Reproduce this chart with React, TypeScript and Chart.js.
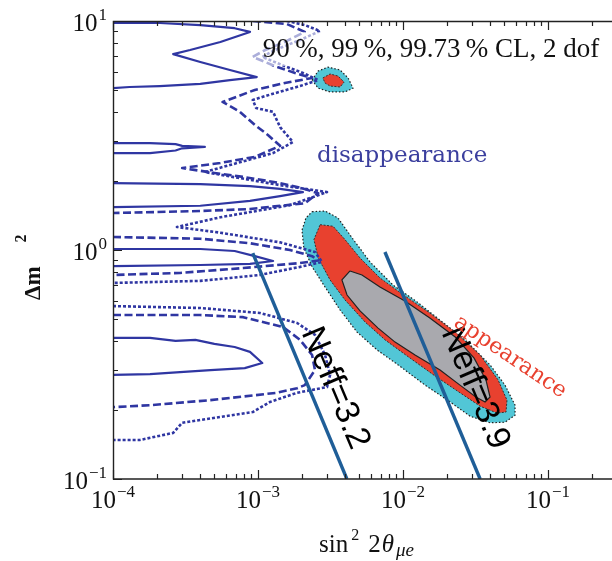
import React, { useEffect, useRef } from 'react';
import { Chart, registerables } from 'chart.js';

Chart.register(...registerables);

type P = [number, number];

// ---- axes ----
const xMin = 1e-4;
const xMax = 0.276;
const yMin = 0.1;
const yMax = 10;
const xTickDecades = [1e-4, 1e-3, 1e-2, 1e-1];
const xTickExponents = ['\u22124', '\u22123', '\u22122', '\u22121'];
const yTickDecades = [1e-1, 1, 10];
const yTickExponents = ['\u22121', '0', '1'];

// ---- disappearance contours (sin^2 2θ, Δm^2) ----
// 90% CL (solid)
const solidA: P[] = [[1e-4, 9.8], [2.1e-4, 9.8], [4.0e-4, 9.6], [6.9e-4, 9.3], [8.8e-4, 8.96], [5.5e-4, 8.1], [3.4e-4, 7.47], [2.6e-4, 7.17], [4.0e-4, 6.62], [6.4e-4, 6.11], [9.8e-4, 5.69], [6.4e-4, 5.52], [4.0e-4, 5.31], [2.1e-4, 5.2], [1.3e-4, 5.15], [1e-4, 5.09]];
const solidB: P[] = [[1e-4, 2.93], [1.8e-4, 2.93], [2.7e-4, 2.9], [3.0e-4, 2.85], [4.3e-4, 2.82], [3.0e-4, 2.78], [2.7e-4, 2.72], [1.8e-4, 2.65], [1e-4, 2.65]];
const solidC: P[] = [[1e-4, 1.96], [4.0e-4, 1.94], [8.8e-4, 1.9], [1.42e-3, 1.85], [2.04e-3, 1.79], [1.42e-3, 1.72], [8.8e-4, 1.64], [4.0e-4, 1.56], [1e-4, 1.54]];
const solidD: P[] = [[1e-4, 1.01], [4.0e-4, 1.01], [6.9e-4, 0.99], [9.5e-4, 0.94], [1.27e-3, 0.895], [8.8e-4, 0.87], [4.0e-4, 0.86], [1e-4, 0.85]];
const solidE: P[] = [[1e-4, 0.413], [1.8e-4, 0.413], [2.7e-4, 0.401], [3.7e-4, 0.405], [5.0e-4, 0.389], [6.9e-4, 0.377], [8.8e-4, 0.359], [1.07e-3, 0.321], [8.1e-4, 0.305], [4.7e-4, 0.299], [2.9e-4, 0.293], [1.8e-4, 0.287], [1e-4, 0.285]];
// 99% CL (dashed)
const dashedTop: P[] = [[9.2e-4, 10], [1.58e-3, 9.7], [2.1e-3, 8.96], [1.53e-3, 8.1], [1.12e-3, 7.47], [9.2e-4, 6.97], [1.31e-3, 6.35], [1.8e-3, 5.93], [2.36e-3, 5.64], [1.53e-3, 5.36], [9.5e-4, 5.0], [5.7e-4, 4.43], [7.5e-4, 4.01], [9.5e-4, 3.52], [1.17e-3, 3.18], [1.42e-3, 2.85], [9.5e-4, 2.55], [5.5e-4, 2.4], [3.0e-4, 2.28], [5.0e-4, 2.17], [8.1e-4, 2.08], [1.42e-3, 1.96], [1.95e-3, 1.87], [2.6e-3, 1.77], [2.1e-3, 1.6], [8.8e-4, 1.51], [4.0e-4, 1.48], [1e-4, 1.45]];
const dashedMid: P[] = [[1e-4, 1.14], [4.0e-4, 1.12], [8.8e-4, 1.07], [1.66e-3, 1.0], [2.36e-3, 0.94], [2.6e-3, 0.9], [1.95e-3, 0.877], [7.9e-4, 0.834], [2.9e-4, 0.794], [1e-4, 0.778]];
const dashedLow: P[] = [[1e-4, 0.52], [4.0e-4, 0.52], [7.9e-4, 0.509], [1.49e-3, 0.461], [1.95e-3, 0.405], [2.36e-3, 0.348], [2.47e-3, 0.299], [2.1e-3, 0.257], [1.86e-3, 0.249], [1.35e-3, 0.238], [4.7e-4, 0.221], [1.8e-4, 0.21], [1e-4, 0.206]];
// 99.73% CL (dotted)
const dottedTop: P[] = [[1.58e-3, 10], [2.1e-3, 9.6], [2.68e-3, 9.04], [1.95e-3, 8.26], [1.31e-3, 7.47], [1.07e-3, 6.97], [1.53e-3, 6.35], [2.04e-3, 5.93], [2.6e-3, 5.52], [1.95e-3, 5.2], [1.25e-3, 4.8], [9.2e-4, 4.52], [9.7e-4, 4.17], [1.27e-3, 4.01], [1.42e-3, 3.44], [1.74e-3, 2.96], [1.27e-3, 2.65], [6.4e-4, 2.35], [4.3e-4, 2.19], [7.5e-4, 2.06], [1.42e-3, 1.92], [2.99e-3, 1.79], [1.66e-3, 1.57], [5.5e-4, 1.39], [2.76e-4, 1.26], [5.5e-4, 1.19], [1.42e-3, 1.08], [2.47e-3, 0.98], [2.76e-3, 0.887], [1.95e-3, 0.844], [1.03e-3, 0.778], [4.0e-4, 0.733], [1e-4, 0.718]];
const dottedLow: P[] = [[1e-4, 0.569], [4.0e-4, 0.558], [1.03e-3, 0.531], [1.86e-3, 0.48], [2.47e-3, 0.426], [2.9e-3, 0.348], [3.14e-3, 0.285], [2.99e-3, 0.252], [1.86e-3, 0.238], [1.21e-3, 0.217], [9.2e-4, 0.196], [3.0e-4, 0.176], [2.6e-4, 0.159], [1.53e-4, 0.148], [1e-4, 0.148]];

// ---- appearance regions ----
const appear9973: P[] = [[2.36e-3, 1.47], [2.9e-3, 1.48], [3.56e-3, 1.38], [4.45e-3, 1.13], [5.92e-3, 0.887], [8.53e-3, 0.703], [1.25e-2, 0.593], [1.8e-2, 0.494], [2.68e-2, 0.405], [3.98e-2, 0.315], [5.05e-2, 0.257], [5.92e-2, 0.21], [5.92e-2, 0.19], [5.05e-2, 0.177], [3.98e-2, 0.176], [2.9e-2, 0.188], [2.11e-2, 0.217], [1.42e-2, 0.257], [9.25e-3, 0.315], [6.62e-3, 0.366], [4.82e-3, 0.438], [3.68e-3, 0.547], [2.9e-3, 0.689], [2.36e-3, 0.844], [2.07e-3, 1.02], [2.01e-3, 1.22], [2.14e-3, 1.38]];
const appear99: P[] = [[2.68e-3, 1.29], [3.29e-3, 1.27], [3.98e-3, 1.11], [5.05e-3, 0.923], [6.93e-3, 0.755], [1.03e-2, 0.63], [1.53e-2, 0.531], [2.29e-2, 0.438], [3.4e-2, 0.348], [4.52e-2, 0.271], [5.21e-2, 0.221], [5.13e-2, 0.196], [4.45e-2, 0.194], [3.4e-2, 0.208], [2.47e-2, 0.238], [1.66e-2, 0.282], [1.12e-2, 0.337], [7.52e-3, 0.405], [5.47e-3, 0.485], [3.98e-3, 0.605], [3.14e-3, 0.74], [2.6e-3, 0.923], [2.43e-3, 1.11]];
const appear90: P[] = [[4.31e-3, 0.81], [5.21e-3, 0.778], [6.93e-3, 0.689], [1.03e-2, 0.599], [1.53e-2, 0.505], [2.29e-2, 0.417], [3.09e-2, 0.337], [3.73e-2, 0.271], [3.98e-2, 0.228], [3.68e-2, 0.217], [3.18e-2, 0.228], [2.47e-2, 0.257], [1.8e-2, 0.299], [1.21e-2, 0.348], [8.81e-3, 0.396], [6.73e-3, 0.456], [5.05e-3, 0.542], [4.11e-3, 0.636], [3.79e-3, 0.74]];
const island9973: P[] = [[2.36e-3, 5.52], [2.6e-3, 6.05], [3.04e-3, 6.29], [3.68e-3, 6.11], [4.18e-3, 5.64], [4.52e-3, 5.09], [3.98e-3, 4.9], [3.14e-3, 4.9], [2.6e-3, 5.09]];
const island99: P[] = [[2.8e-3, 5.64], [3.14e-3, 5.87], [3.56e-3, 5.75], [3.92e-3, 5.41], [3.68e-3, 5.15], [3.14e-3, 5.2], [2.9e-3, 5.36]];

// ---- Neff lines ----
const neff32: P[] = [[9.2e-4, 0.97], [4.1e-3, 0.1]];
const neff39: P[] = [[7.5e-3, 0.98], [3.4e-2, 0.1]];

// ---- annotation anchors (data coordinates) ----
const clLabel = { text: '90\u2009%, 99\u2009%, 99.73\u2009% CL, 2 dof', x: 1.08e-3, y: 6.96 };
const disLabel = { text: 'disappearance', x: 2.55e-3, y: 2.42 };
const appLabel = { text: 'appearance', x: 5.47e-2, y: 0.341, angle: 34 };
const neffLabels = [
  { text: 'Neff=3.2', x: 3.4e-3, y: 0.249, angle: 67 },
  { text: 'Neff=3.9', x: 3.14e-2, y: 0.249, angle: 67 },
];

const BLUE = '#2f36a2';
const toXY = (a: P[]) => a.map(([x, y]) => ({ x, y }));
const closed = (a: P[]) => toXY([...a, a[0]]);

function contour(label: string, data: P[], dash: number[], width: number) {
  return {
    label, data: toXY(data), showLine: true, borderColor: BLUE, borderWidth: width,
    borderDash: dash, pointRadius: 0, fill: false, order: 5, borderCapStyle: 'butt', borderJoinStyle: 'round',
  };
}
function region(label: string, data: P[], fillColor: string, border: string, dash: number[], order: number, bw = 1) {
  return {
    label, data: closed(data), showLine: true, borderColor: border, borderWidth: bw, borderDash: dash,
    backgroundColor: fillColor, fill: 'shape', pointRadius: 0, order,
  };
}

const SERIF = '"Liberation Serif", "Times New Roman", serif';

const decor = {
  id: 'decor',
  beforeDatasetDraw(chart: any, args: any) {
    const ds = chart.data.datasets[args.index];
    if (ds.label !== 'Neff 3.9 line') return;
    const ctx = chart.ctx;
    const xs = chart.scales.x, ys = chart.scales.y;
    ctx.save();
    ctx.fillStyle = '#000';
    ctx.font = '34px "Liberation Sans", Arial, sans-serif';
    ctx.textAlign = 'center';
    ctx.textBaseline = 'middle';
    for (const l of neffLabels) {
      ctx.save();
      ctx.translate(xs.getPixelForValue(l.x), ys.getPixelForValue(l.y));
      ctx.rotate((l.angle * Math.PI) / 180);
      ctx.fillText(l.text, 0, 0);
      ctx.restore();
    }
    ctx.restore();
  },
  afterDatasetsDraw(chart: any) {
    const ctx = chart.ctx;
    const xs = chart.scales.x, ys = chart.scales.y;
    const { left, right, top, bottom } = chart.chartArea;
    ctx.save();

    // CL label with translucent box
    const clx = xs.getPixelForValue(clLabel.x), cly = ys.getPixelForValue(clLabel.y);
    ctx.font = `27px ${SERIF}`;
    const clw = ctx.measureText(clLabel.text).width;
    ctx.fillStyle = 'rgba(255,255,255,0.6)';
    ctx.fillRect(clx - 12, cly - 25, clw + 16, 34);
    ctx.fillStyle = '#111';
    ctx.textAlign = 'left';
    ctx.textBaseline = 'alphabetic';
    ctx.fillText(clLabel.text, clx, cly);

    // disappearance
    ctx.font = '23px "DejaVu Serif", serif';
    ctx.fillStyle = '#3b3f9e';
    ctx.fillText(disLabel.text, xs.getPixelForValue(disLabel.x), ys.getPixelForValue(disLabel.y));

    // appearance
    ctx.save();
    ctx.translate(xs.getPixelForValue(appLabel.x), ys.getPixelForValue(appLabel.y));
    ctx.rotate((appLabel.angle * Math.PI) / 180);
    ctx.font = '22px "DejaVu Serif", serif';
    ctx.fillStyle = '#e8412f';
    ctx.textAlign = 'center';
    ctx.textBaseline = 'middle';
    ctx.fillText(appLabel.text, 0, 0);
    ctx.restore();

    // frame
    ctx.strokeStyle = '#222';
    ctx.lineWidth = 1.4;
    ctx.beginPath();
    ctx.moveTo(right, top + 0.5);
    ctx.lineTo(left + 0.5, top + 0.5);
    ctx.lineTo(left + 0.5, bottom);
    ctx.lineTo(right, bottom);
    ctx.stroke();

    // ticks
    ctx.lineWidth = 1.2;
    const xTicks: { v: number; major: boolean }[] = [];
    for (const d of xTickDecades) {
      xTicks.push({ v: d, major: true });
      for (let k = 2; k <= 9; k++) if (k * d <= xMax) xTicks.push({ v: k * d, major: false });
    }
    ctx.beginPath();
    for (const t of xTicks) {
      const px = Math.round(xs.getPixelForValue(t.v)) + 0.5;
      const len = t.major ? 9 : 5;
      ctx.moveTo(px, bottom); ctx.lineTo(px, bottom - len);
      ctx.moveTo(px, top); ctx.lineTo(px, top + len);
    }
    const yTicks: { v: number; major: boolean }[] = [];
    for (const d of yTickDecades) {
      yTicks.push({ v: d, major: true });
      for (let k = 2; k <= 9; k++) if (k * d < yMax) yTicks.push({ v: k * d, major: false });
    }
    for (const t of yTicks) {
      const py = Math.round(ys.getPixelForValue(t.v)) + 0.5;
      const len = t.major ? 9 : 5;
      ctx.moveTo(left, py); ctx.lineTo(left + len, py);
    }
    ctx.stroke();

    // tick labels
    ctx.fillStyle = '#111';
    ctx.textAlign = 'left';
    ctx.textBaseline = 'alphabetic';
    const mainFont = `25px ${SERIF}`;
    const supFont = `17px ${SERIF}`;
    xTickDecades.forEach((v, i) => {
      const px = xs.getPixelForValue(v);
      ctx.font = mainFont; const w1 = ctx.measureText('10').width;
      ctx.font = supFont; const w2 = ctx.measureText(xTickExponents[i]).width;
      const start = px - (w1 + 1 + w2) / 2;
      ctx.font = mainFont; ctx.fillText('10', start, bottom + 29);
      ctx.font = supFont; ctx.fillText(xTickExponents[i], start + w1 + 1, bottom + 18);
    });
    yTickDecades.forEach((v, i) => {
      const py = ys.getPixelForValue(v);
      ctx.font = supFont; const w2 = ctx.measureText(yTickExponents[i]).width;
      ctx.font = mainFont; const w1 = ctx.measureText('10').width;
      const end = left - 6;
      ctx.fillText('10', end - w2 - 1 - w1, py + 10);
      ctx.font = supFont; ctx.fillText(yTickExponents[i], end - w2, py - 1);
    });

    // x title: sin^2 2θ_μe
    const f1 = `25px ${SERIF}`, fSup = `16px ${SERIF}`, fIt = `italic 25px ${SERIF}`, fSub = `italic 19px ${SERIF}`;
    const parts = [
      { t: 'sin', f: f1, dy: 0, gap: 3 },
      { t: '2', f: fSup, dy: -12, gap: 9 },
      { t: '2', f: f1, dy: 0, gap: 1 },
      { t: '\u03b8', f: fIt, dy: 0, gap: 2 },
      { t: '\u03bce', f: fSub, dy: 4, gap: 0 },
    ];
    let total = 0;
    for (const p of parts) { ctx.font = p.f; total += ctx.measureText(p.t).width + p.gap; }
    let cx = (left + right) / 2 + 4 - total / 2;
    const base = bottom + 73;
    for (const p of parts) {
      ctx.font = p.f;
      ctx.fillText(p.t, cx, base + p.dy);
      cx += ctx.measureText(p.t).width + p.gap;
    }

    // y title: Δm^2
    ctx.save();
    ctx.translate(40, (top + bottom) / 2 + 50);
    ctx.rotate(-Math.PI / 2);
    ctx.font = `bold 23px ${SERIF}`;
    ctx.fillText('\u0394m', 0, 0);
    const wd = ctx.measureText('\u0394m').width;
    ctx.font = `bold 16px ${SERIF}`;
    ctx.fillText('2', wd + 24, -14);
    ctx.restore();

    ctx.restore();
  },
};

export default function App() {
  const ref = useRef<HTMLCanvasElement | null>(null);
  useEffect(() => {
    if (!ref.current) return;
    const datasets: any[] = [
      region('appearance 99.73%', appear9973, '#52c6d6', '#222', [1.5, 2], 10, 1.2),
      region('island 99.73%', island9973, '#52c6d6', '#222', [1.5, 2], 10, 1.2),
      region('appearance 99%', appear99, '#e8412f', '#333', [2, 1.5], 9, 1),
      region('island 99%', island99, '#e8412f', '#333', [2, 1.5], 9, 1),
      region('appearance 90%', appear90, '#a9a9ae', '#222', [], 8, 1.2),
      contour('dis 90% A', solidA, [], 2.2),
      contour('dis 90% B', solidB, [], 2.2),
      contour('dis 90% C', solidC, [], 2.2),
      contour('dis 90% D', solidD, [], 2.2),
      contour('dis 90% E', solidE, [], 2.2),
      contour('dis 99% top', dashedTop, [8, 3.5], 2.6),
      contour('dis 99% mid', dashedMid, [8, 3.5], 2.6),
      contour('dis 99% low', dashedLow, [8, 3.5], 2.6),
      contour('dis 99.73% top', dottedTop, [3, 2], 2.6),
      contour('dis 99.73% low', dottedLow, [3, 2], 2.6),
      { label: 'Neff 3.9 line', data: toXY(neff39), showLine: true, borderColor: '#1f5e98', borderWidth: 3.4, pointRadius: 0, fill: false, order: 2 },
      { label: 'Neff 3.2 line', data: toXY(neff32), showLine: true, borderColor: '#1f5e98', borderWidth: 3.4, pointRadius: 0, fill: false, order: 1 },
    ];
    const chart = new Chart(ref.current, {
      type: 'scatter',
      data: { datasets },
      options: {
        animation: false,
        responsive: false,
        devicePixelRatio: 1,
        events: [],
        layout: { padding: { left: 113, top: 21, right: 0, bottom: 82 } },
        plugins: { legend: { display: false }, tooltip: { enabled: false } },
        scales: {
          x: { type: 'logarithmic', min: xMin, max: xMax, display: false },
          y: { type: 'logarithmic', min: yMin, max: yMax, display: false },
        },
      } as any,
      plugins: [decor as any],
    });
    return () => chart.destroy();
  }, []);
  return (
    <div style={{ position: 'absolute', left: 0, top: 0, width: 612, height: 561, background: '#fff' }}>
      <canvas ref={ref} width={612} height={561} style={{ width: 612, height: 561, display: 'block' }} />
    </div>
  );
}
